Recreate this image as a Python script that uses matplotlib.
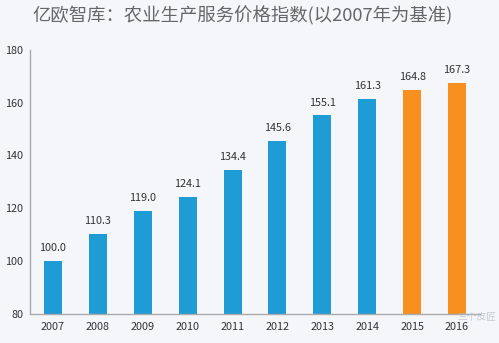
import matplotlib.pyplot as plt

plt.rcParams["font.family"] = ["Noto Sans CJK SC", "DejaVu Sans"]

years = ["2007", "2008", "2009", "2010", "2011", "2012", "2013", "2014", "2015", "2016"]
index_values = [100.0, 110.3, 119.0, 124.1, 134.4, 145.6, 155.1, 161.3, 164.8, 167.3]
forecast_years = ["2015", "2016"]

BLUE = "#1f9bd6"
ORANGE = "#f7901f"
BG = "#f4f6f9"

fig = plt.figure(figsize=(4.99, 3.43), dpi=100, facecolor=BG)
ax = fig.add_axes([0.061, 0.085, 0.90, 0.77], facecolor=BG)

colors = [ORANGE if y in forecast_years else BLUE for y in years]
x = range(len(years))
ax.bar(x, index_values, width=0.40, color=colors, bottom=0)

for xi, v in zip(x, index_values):
    ax.text(xi, v + 3, f"{v:.1f}", ha="center", va="bottom", fontsize=7.8, color="#333333")

ax.set_xlim(-0.5, len(years) - 0.5)
ax.set_ylim(80, 180)
ax.set_yticks([80, 100, 120, 140, 160, 180])
ax.set_xticks(list(x))
ax.set_xticklabels(years)
ax.tick_params(axis="both", length=0, labelsize=7.8, colors="#333333")
ax.tick_params(axis="y", pad=5)
ax.tick_params(axis="x", pad=6)

for side in ["top", "right"]:
    ax.spines[side].set_visible(False)
for side in ["left", "bottom"]:
    ax.spines[side].set_color("#aaaaaa")
    ax.spines[side].set_linewidth(1.0)

fig.text(0.064, 0.955, "亿欧智库：农业生产服务价格指数(以2007年为基准)",
         fontsize=13.2, color="#666666", ha="left", va="center")

fig.text(0.995, 0.075, "三个皮匠", fontsize=7, color="#b8c0c8", ha="right", va="center", alpha=0.8)

fig.savefig("out.png", dpi=100, facecolor=BG)
